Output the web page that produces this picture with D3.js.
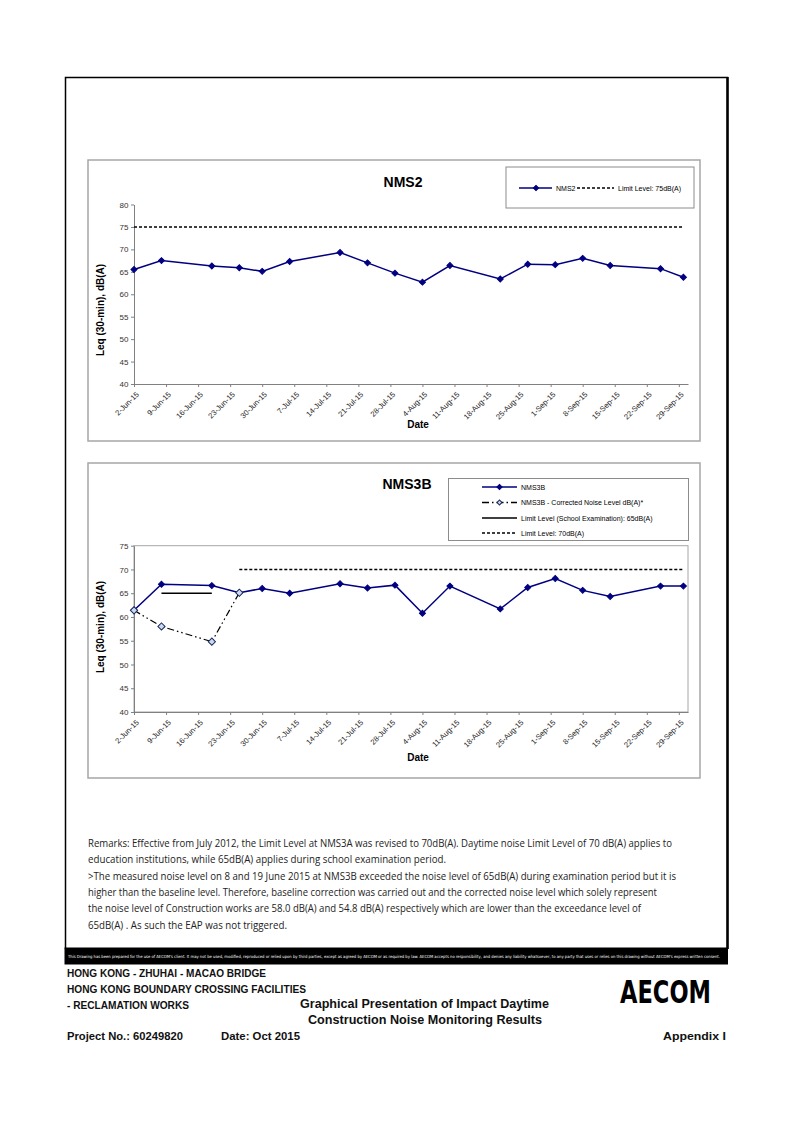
<!DOCTYPE html>
<html><head><meta charset="utf-8">
<script src="https://cdn.jsdelivr.net/npm/d3@7"></script>
<style>html,body{margin:0;padding:0;background:#fff}svg{display:block}</style>
</head><body>
<svg id="page" width="794" height="1122"></svg>
<script>
// ---------------- DATA ----------------
const sampleDates = ["2015-06-02","2015-06-08","2015-06-19","2015-06-25","2015-06-30","2015-07-06","2015-07-17","2015-07-23","2015-07-29","2015-08-04","2015-08-10","2015-08-21","2015-08-27","2015-09-02","2015-09-08","2015-09-14","2015-09-25","2015-09-30"];
const nms2Values  = [65.5,67.5,66.3,65.9,65.1,67.3,69.3,67.0,64.7,62.7,66.4,63.4,66.7,66.6,68.0,66.4,65.7,63.8];
const nms3bValues = [61.4,66.9,66.6,65.1,66.0,65.0,67.0,66.1,66.7,60.8,66.5,61.7,66.2,68.1,65.6,64.3,66.5,66.5];
const correctedDates  = ["2015-06-02","2015-06-08","2015-06-19","2015-06-25"];
const correctedValues = [61.4,58.0,54.8,65.1];
const nms2LimitDates = ["2015-06-02","2015-09-30"]; const nms2LimitValue = 75;
const schoolLimitDates = ["2015-06-08","2015-06-19"]; const schoolLimitValue = 65;
const nms3bLimitDates = ["2015-06-25","2015-09-30"]; const nms3bLimitValue = 70;
const xTickDates = ["2015-06-02","2015-06-09","2015-06-16","2015-06-23","2015-06-30","2015-07-07","2015-07-14","2015-07-21","2015-07-28","2015-08-04","2015-08-11","2015-08-18","2015-08-25","2015-09-01","2015-09-08","2015-09-15","2015-09-22","2015-09-29"];
const nms2YTicks  = [40,45,50,55,60,65,70,75,80];
const nms3bYTicks = [40,45,50,55,60,65,70,75];
const xDomain = ["2015-06-02","2015-10-01"];

const remarks = [
 "Remarks: Effective from July 2012, the Limit Level at NMS3A was revised to 70dB(A). Daytime noise Limit Level of 70 dB(A) applies to",
 "education institutions, while 65dB(A) applies during school examination period.",
 ">The measured noise level on 8 and 19 June 2015 at NMS3B exceeded the noise level of 65dB(A) during examination period but it is",
 "higher than the baseline level. Therefore, baseline correction was carried out and the corrected noise level which solely represent",
 "the noise level of Construction works are 58.0 dB(A) and 54.8 dB(A) respectively which are lower than the exceedance level of",
 "65dB(A) .  As such the EAP was not triggered."
];
const remarkWidths = [584, 358, 588, 569, 553, 199];

// ---------------- DRAW ----------------
const parse = d3.utcParse("%Y-%m-%d");
const fmt = d3.utcFormat("%-d-%b-%y");
const svg = d3.select("#page");
svg.append("rect").attr("width",794).attr("height",1122).attr("fill","#fff");

const NAVY = "#000080";
const AX = "#808080";
const FONT = "'Liberation Sans', Arial, sans-serif";

svg.append("path").attr("d","M65.5,949 V77.5 H727.5 V949").attr("fill","none").attr("stroke","#000").attr("stroke-width",1.5);
svg.append("line").attr("x1",727.5).attr("x2",727.5).attr("y1",77).attr("y2",949).attr("stroke","#000").attr("stroke-width",2.5);

const x = d3.scaleUtc().domain(xDomain.map(parse)).range([134, 688]);

function diamond(g, pts, size, fill, stroke) {
  g.selectAll(null).data(pts).join("path")
    .attr("d", d3.symbol(d3.symbolSquare, size)())
    .attr("transform", d => `translate(${d[0]},${d[1]}) rotate(45)`)
    .attr("fill", fill).attr("stroke", stroke).attr("stroke-width", 1);
}

function chart(opts) {
  const g = svg.append("g");
  const b = opts.box;
  g.append("rect").attr("x",b.x).attr("y",b.y).attr("width",b.w).attr("height",b.h)
    .attr("fill","#fff").attr("stroke","#a6a6a6").attr("stroke-width",1.5);
  const y = d3.scaleLinear().domain(opts.yDomain).range(opts.yRange);
  if (opts.plotBorder) {
    g.append("rect").attr("x",x.range()[0]).attr("y",y.range()[1])
      .attr("width",x.range()[1]-x.range()[0]).attr("height",y.range()[0]-y.range()[1])
      .attr("fill","none").attr("stroke","#a6a6a6").attr("stroke-width",1);
  }
  const ya = g.append("g").attr("transform",`translate(${x.range()[0]},0)`)
    .call(d3.axisLeft(y).tickValues(opts.yTicks).tickSize(3).tickPadding(2.5).tickSizeOuter(0));
  ya.select(".domain").attr("stroke",AX);
  ya.selectAll(".tick line").attr("stroke",AX);
  ya.selectAll("text").attr("font-family",FONT).attr("font-size",8).attr("fill","#333");
  const xa = g.append("g").attr("transform",`translate(0,${y.range()[0]})`)
    .call(d3.axisBottom(x).tickValues(xTickDates.map(parse)).tickFormat(fmt).tickSize(3).tickSizeOuter(0));
  xa.select(".domain").attr("stroke",AX);
  xa.selectAll(".tick line").attr("stroke",AX);
  xa.selectAll("text").attr("font-family",FONT).attr("font-size",7.6).attr("fill","#222")
    .attr("y",0).attr("dy","0.35em").attr("text-anchor","end")
    .attr("transform","translate(3,9) rotate(-45)");
  g.append("text").attr("x",opts.titleX).attr("y",opts.titleY).attr("text-anchor","middle")
    .attr("font-family",FONT).attr("font-weight","bold").attr("font-size",14).text(opts.title);
  g.append("text").attr("transform",`translate(104,${opts.yLabelY}) rotate(-90)`).attr("text-anchor","middle")
    .attr("font-family",FONT).attr("font-weight","bold").attr("font-size",10).text("Leq (30-min), dB(A)");
  g.append("text").attr("x",418).attr("y",opts.dateY).attr("text-anchor","middle")
    .attr("font-family",FONT).attr("font-weight","bold").attr("font-size",10).text("Date");
  return {g, y};
}

function limitLine(g, y, dates, value, dash, w) {
  const line = d3.line().x(d => x(parse(d))).y(() => y(value));
  g.append("path").attr("d", line(dates)).attr("fill","none").attr("stroke","#000")
    .attr("stroke-width", w).attr("stroke-dasharray", dash);
}

function seriesLine(g, y, dates, values, color, w, dash) {
  const pts = dates.map((d,i) => [x(parse(d)), y(values[i])]);
  g.append("path").attr("d", d3.line()(pts)).attr("fill","none").attr("stroke",color)
    .attr("stroke-width", w).attr("stroke-dasharray", dash || null);
  return pts;
}

// ---- NMS2 ----
{
  const {g, y} = chart({box:{x:88,y:160,w:612,h:281}, yDomain:[40,80], yRange:[384,204.5], yTicks:nms2YTicks,
    plotBorder:false, title:"NMS2", titleX:403, titleY:187, yLabelY:310, dateY:428});
  limitLine(g, y, nms2LimitDates, nms2LimitValue, "3,2", 1.5);
  const pts = seriesLine(g, y, sampleDates, nms2Values, NAVY, 1.5);
  diamond(g, pts, 18, NAVY, NAVY);
  g.append("rect").attr("x",506).attr("y",167).attr("width",188).attr("height",41)
    .attr("fill","#fff").attr("stroke","#8c8c8c").attr("stroke-width",1);
  const ly = 188;
  g.append("line").attr("x1",519).attr("x2",552).attr("y1",ly).attr("y2",ly).attr("stroke",NAVY).attr("stroke-width",1.5);
  diamond(g, [[536,ly]], 14, NAVY, NAVY);
  g.append("text").attr("x",556).attr("y",ly+2.5).attr("font-family",FONT).attr("font-size",7).text("NMS2");
  g.append("line").attr("x1",577).attr("x2",614).attr("y1",ly).attr("y2",ly).attr("stroke","#000").attr("stroke-width",1.5).attr("stroke-dasharray","3,2");
  g.append("text").attr("x",618).attr("y",ly+2.5).attr("font-family",FONT).attr("font-size",7).text("Limit Level: 75dB(A)");
}

// ---- NMS3B ----
{
  const {g, y} = chart({box:{x:88,y:463,w:612,h:315}, yDomain:[40,75], yRange:[712,545.7], yTicks:nms3bYTicks,
    plotBorder:true, title:"NMS3B", titleX:407, titleY:489, yLabelY:627, dateY:761});
  limitLine(g, y, nms3bLimitDates, nms3bLimitValue, "3,2", 1.5);
  limitLine(g, y, schoolLimitDates, schoolLimitValue, null, 1.5);
  const pts = seriesLine(g, y, sampleDates, nms3bValues, NAVY, 1.5);
  diamond(g, pts, 18, NAVY, NAVY);
  const cpts = seriesLine(g, y, correctedDates, correctedValues, "#000", 1.2, "7,3,1.5,3,1.5,3");
  diamond(g, cpts, 26, "#c9dcef", "#1f2a60");
  g.append("rect").attr("x",448.5).attr("y",478.5).attr("width",240).attr("height",62)
    .attr("fill","#fff").attr("stroke","#8c8c8c").attr("stroke-width",1);
  const rows = [487, 502.5, 518, 533];
  const lx1 = 482, lx2 = 517, tx = 521;
  g.append("line").attr("x1",lx1).attr("x2",lx2).attr("y1",rows[0]).attr("y2",rows[0]).attr("stroke",NAVY).attr("stroke-width",1.5);
  diamond(g, [[(lx1+lx2)/2, rows[0]]], 14, NAVY, NAVY);
  g.append("line").attr("x1",lx1).attr("x2",lx2).attr("y1",rows[1]).attr("y2",rows[1]).attr("stroke","#000").attr("stroke-width",1.5).attr("stroke-dasharray","7,3,1.5,3");
  diamond(g, [[(lx1+lx2)/2, rows[1]]], 12, "#c9dcef", "#1f2a60");
  g.append("line").attr("x1",lx1).attr("x2",lx2).attr("y1",rows[2]).attr("y2",rows[2]).attr("stroke","#000").attr("stroke-width",1.5);
  g.append("line").attr("x1",lx1).attr("x2",lx2).attr("y1",rows[3]).attr("y2",rows[3]).attr("stroke","#000").attr("stroke-width",1.5).attr("stroke-dasharray","3,2");
  const labels = ["NMS3B","NMS3B - Corrected Noise Level dB(A)*","Limit Level (School Examination): 65dB(A)","Limit Level: 70dB(A)"];
  labels.forEach((t,i) => g.append("text").attr("x",tx).attr("y",rows[i]+2.5).attr("font-family",FONT).attr("font-size",7).text(t));
}

// ---- Remarks ----
const remG = svg.append("g");
remarks.forEach((t,i) => {
  remG.append("text").attr("x",88).attr("y",847 + i*16.3)
    .attr("font-family","'Open Sans','Noto Sans',sans-serif").attr("font-size",10).attr("fill","#222")
    .attr("textLength", remarkWidths[i]).attr("lengthAdjust","spacingAndGlyphs").text(t);
});

// ---- Disclaimer strip ----
svg.append("rect").attr("x",64.5).attr("y",947.5).attr("width",663.5).attr("height",17).attr("fill","#000");
const disc = svg.append("text").attr("x",68).attr("y",958)
  .attr("font-family","'DejaVu Sans Condensed','Liberation Sans Narrow','Liberation Sans',sans-serif").attr("font-size",4.3).attr("fill","#fff")
  .text("This Drawing has been prepared for the use of AECOM's client. It may not be used, modified, reproduced or relied upon by third parties, except as agreed by AECOM or as required by law. AECOM accepts no responsibility, and denies any liability whatsoever, to any party that uses or relies on this drawing without AECOM's express written consent.");
{
  const w = disc.node().getComputedTextLength();
  if (w > 654) disc.attr("font-size", 4.3 * 654 / w);
}

// ---- Footer ----
const foot = [
  {t:"HONG KONG - ZHUHAI - MACAO BRIDGE", x:67, y:977, w:199, s:10},
  {t:"HONG KONG BOUNDARY CROSSING FACILITIES", x:67, y:993, w:239, s:10},
  {t:"- RECLAMATION WORKS", x:67, y:1009, w:122, s:10},
  {t:"Graphical Presentation of Impact Daytime", x:300, y:1007.5, w:249, s:12},
  {t:"Construction Noise Monitoring Results", x:308, y:1024, w:234, s:12},
  {t:"Project No.: 60249820", x:67, y:1040, w:116, s:11.5},
  {t:"Date: Oct 2015", x:221, y:1040, w:79, s:11.5},
  {t:"Appendix I", x:663, y:1040, w:63, s:11.5}
];
foot.forEach(f => svg.append("text").attr("x",f.x).attr("y",f.y).attr("font-family",FONT)
  .attr("font-weight","bold").attr("font-size",f.s).attr("fill","#111")
  .attr("textLength",f.w).attr("lengthAdjust","spacingAndGlyphs").text(f.t));
svg.append("text").attr("x",620).attr("y",1003).attr("font-family","'DejaVu Sans',sans-serif")
  .attr("font-weight","bold").attr("font-size",32).attr("fill","#000")
  .attr("textLength",91).attr("lengthAdjust","spacingAndGlyphs").text("AECOM");
</script>
</body></html>
